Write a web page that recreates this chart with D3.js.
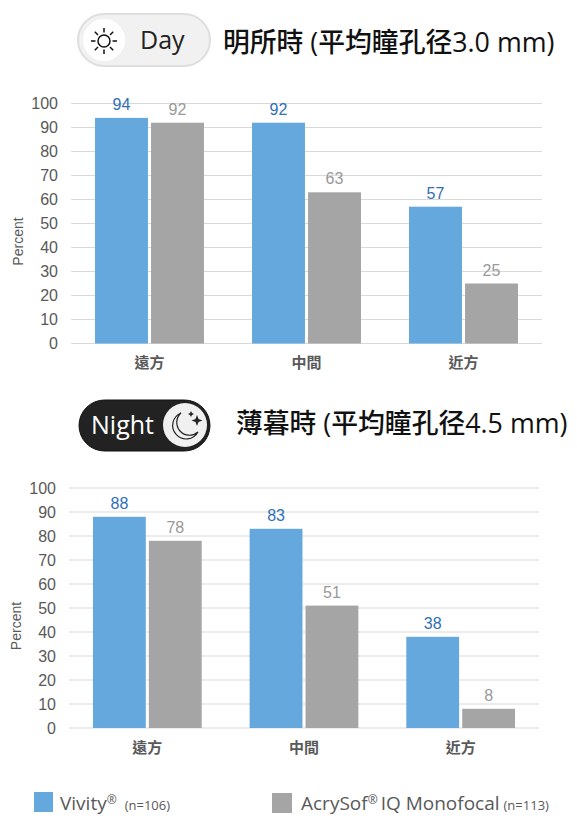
<!doctype html>
<html>
<head>
<meta charset="utf-8">
<title>Vivity vs AcrySof IQ Monofocal</title>
<script src="https://cdnjs.cloudflare.com/ajax/libs/d3/7.8.5/d3.min.js"></script>
<style>
  html, body { margin: 0; padding: 0; background: #fff; }
  svg { display: block; }
  text { font-family: "Liberation Sans", Arial, sans-serif; }
  .cjk { font-family: "Noto Sans CJK TC", sans-serif; }
  .open { font-family: "Open Sans", sans-serif; }
</style>
</head>
<body>
<div id="chart"></div>
<script>
const categories = ['遠方', '中間', '近方'];
const seriesNames = ['Vivity', 'AcrySof IQ Monofocal'];
const dayVivity = [94, 92, 57];
const dayMono = [92, 63, 25];
const nightVivity = [88, 83, 38];
const nightMono = [78, 51, 8];
const yTicks = [0, 10, 20, 30, 40, 50, 60, 70, 80, 90, 100];

const blue = '#65a8dd', gray = '#a5a5a5';

const svg = d3.select('#chart').append('svg')
  .attr('width', 577)
  .attr('height', 825);

function drawChart(left, right, top, bottom, vals1, vals2) {
  const x = d3.scaleBand().domain(categories).range([left, right]).paddingInner(0.306).paddingOuter(0.153);
  const x1 = d3.scaleBand().domain(seriesNames).range([0, x.bandwidth()]).paddingInner(0.055);
  const y = d3.scaleLinear().domain([0, 100]).range([bottom, top]);
  const g = svg.append('g');

  // gridlines
  g.selectAll('line.grid').data(yTicks).join('line')
    .attr('x1', left).attr('x2', right)
    .attr('y1', d => y(d)).attr('y2', d => y(d))
    .attr('stroke', '#d9d9d9').attr('stroke-width', 1);

  // y axis labels
  const yAxis = d3.axisLeft(y).tickValues(yTicks).tickSize(0).tickPadding(13);
  const ya = g.append('g').attr('transform', `translate(${left},0)`).call(yAxis);
  ya.select('.domain').remove();
  ya.selectAll('text').style('font-size', '16px').attr('fill', '#595959')
    .style('font-family', '"Liberation Sans", Arial, sans-serif');

  g.append('text')
    .attr('transform', `translate(${left - 48},${(top + bottom) / 2 + 18}) rotate(-90)`)
    .attr('text-anchor', 'middle')
    .attr('fill', '#595959')
    .style('font-size', '14px')
    .text('Percent');

  // x axis labels
  const xAxis = d3.axisBottom(x).tickSize(0).tickPadding(14);
  const xa = g.append('g').attr('transform', `translate(0,${bottom})`).call(xAxis);
  xa.select('.domain').remove();
  xa.selectAll('text').attr('class', 'cjk').style('font-size', '15px').style('font-weight', '700')
    .attr('fill', '#595959').style('font-family', '"Noto Sans CJK TC", sans-serif');

  [[vals1, blue, '#2f6fb7', seriesNames[0]], [vals2, gray, '#999999', seriesNames[1]]].forEach(([vals, col, labelCol, name]) => {
    g.selectAll(null).data(vals).join('rect')
      .attr('x', (d, i) => x(categories[i]) + x1(name))
      .attr('width', x1.bandwidth())
      .attr('y', d => y(d))
      .attr('height', d => bottom - y(d))
      .attr('fill', col);
    g.selectAll(null).data(vals).join('text')
      .attr('x', (d, i) => x(categories[i]) + x1(name) + x1.bandwidth() / 2)
      .attr('y', d => y(d) - 8)
      .attr('text-anchor', 'middle')
      .attr('fill', labelCol)
      .style('font-size', '16px')
      .text(d => d);
  });
}

drawChart(71, 542, 103.5, 343.5, dayVivity, dayMono);
drawChart(69, 539, 488, 728, nightVivity, nightMono);

// day toggle
const day = svg.append('g');
day.append('rect').attr('x', 78).attr('y', 14).attr('width', 132).attr('height', 52).attr('rx', 26)
  .attr('fill', '#f1f1f1').attr('stroke', '#dedede').attr('stroke-width', 2);
day.append('circle').attr('cx', 104).attr('cy', 40).attr('r', 21).attr('fill', '#fff');
const sun = day.append('g').attr('transform', 'translate(104,41)').attr('stroke', '#111').attr('fill', 'none').attr('stroke-width', 1.5);
sun.append('circle').attr('r', 6);
d3.range(8).forEach(i => {
  const a = i * Math.PI / 4;
  sun.append('line').attr('x1', 8.5 * Math.cos(a)).attr('y1', 8.5 * Math.sin(a))
    .attr('x2', 13 * Math.cos(a)).attr('y2', 13 * Math.sin(a));
});
day.append('text').attr('class', 'open').attr('x', 140).attr('y', 49).attr('fill', '#222')
  .style('font-size', '25px').text('Day');

// night toggle
const night = svg.append('g');
night.append('rect').attr('x', 79).attr('y', 400).attr('width', 131).attr('height', 51).attr('rx', 25.5)
  .attr('fill', '#222222').attr('stroke', '#111').attr('stroke-width', 1);
night.append('circle').attr('cx', 185).attr('cy', 425).attr('r', 22).attr('fill', '#f0f0f0');
night.append('path')
  .attr('d', 'M181 413 A13.5 13.5 0 1 0 198 432 A12 12 0 0 1 181 413 Z')
  .attr('fill', 'none').attr('stroke', '#222').attr('stroke-width', 1.2);
night.append('path').attr('d', 'M197 415 l1.5 4 4 1.5 -4 1.5 -1.5 4 -1.5 -4 -4 -1.5 4 -1.5 Z').attr('fill', '#222');
night.append('path').attr('d', 'M191 411 l1 2 2 1 -2 1 -1 2 -1 -2 -2 -1 2 -1 Z').attr('fill', '#222');
night.append('text').attr('class', 'open').attr('x', 91).attr('y', 434).attr('fill', '#fff')
  .style('font-size', '25px').text('Night');

// headings
function heading(x, y, cjk1, rest) {
  const t = svg.append('text').attr('x', x).attr('y', y).attr('fill', '#111').style('font-size', '26.8px');
  t.append('tspan').attr('class', 'cjk').style('font-weight', '500').text(cjk1);
  t.append('tspan').attr('class', 'open').text(' (');
  t.append('tspan').attr('class', 'cjk').style('font-weight', '500').text('平均瞳孔径');
  t.append('tspan').attr('class', 'open').text(rest);
}
heading(223, 52, '明所時', '3.0 mm)');
heading(236, 433, '薄暮時', '4.5 mm)');

// legend
svg.append('rect').attr('x', 34).attr('y', 792).attr('width', 19).attr('height', 20).attr('fill', blue);
svg.append('rect').attr('x', 272).attr('y', 793).attr('width', 20).attr('height', 20).attr('fill', gray);
const l1 = svg.append('text').attr('class', 'open').attr('x', 60).attr('y', 810).attr('fill', '#595959').style('font-size', '19px');
l1.append('tspan').text('Vivity');
l1.append('tspan').attr('dy', -6).style('font-size', '12px').text('®');
l1.append('tspan').attr('dy', 6).attr('dx', 8).style('font-size', '13px').text('(n=106)');
const l2 = svg.append('text').attr('class', 'open').attr('x', 301).attr('y', 810).attr('fill', '#595959').style('font-size', '19px');
l2.append('tspan').text('AcrySof');
l2.append('tspan').attr('dy', -6).style('font-size', '12px').text('®');
l2.append('tspan').attr('dy', 6).attr('dx', 3).text('IQ Monofocal');
l2.append('tspan').attr('dx', 4).style('font-size', '13px').text('(n=113)');
</script>
</body>
</html>
